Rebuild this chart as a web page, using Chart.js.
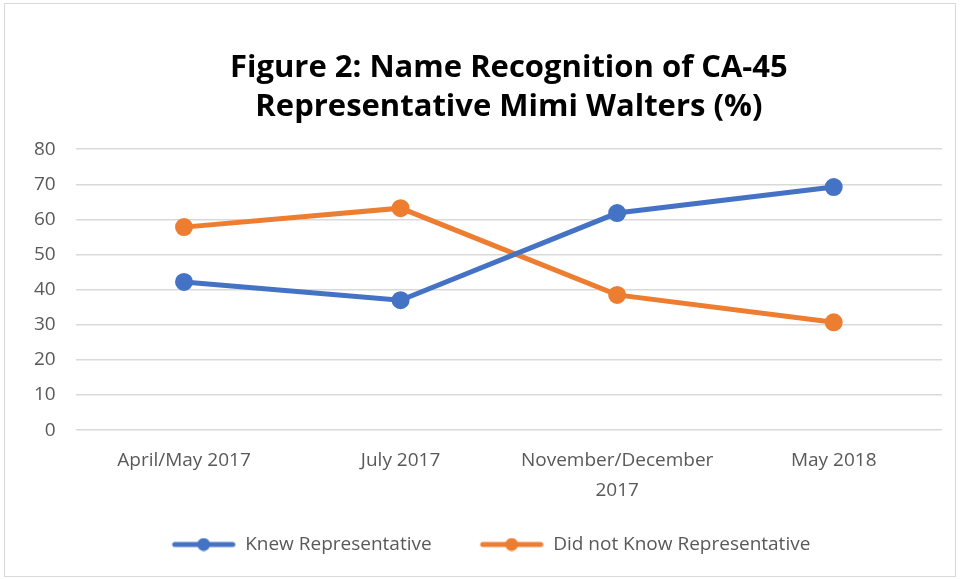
<!DOCTYPE html>
<html>
<head>
<meta charset="utf-8">
<script src="https://cdn.jsdelivr.net/npm/chart.js@4/dist/chart.umd.min.js"></script>
<style>
  html, body { margin: 0; padding: 0; background: #fff; }
  #frame { position: absolute; left: 4px; top: 3px; width: 952px; height: 574px; border: 1px solid #d9d9d9; box-sizing: border-box; }
  #chart { display: block; }
</style>
</head>
<body>
<div id="frame"><canvas id="chart" width="950" height="572"></canvas></div>
<script>
// survey waves
var categories = ["April/May 2017", "July 2017", ["November/December", "2017"], "May 2018"];
var knewValues = [42.2, 37.0, 61.8, 69.2];
var didNotKnowValues = [57.8, 63.2, 38.5, 30.7];
var yTicks = { min: 0, max: 80, step: 10 };

var blue = "#4472C4";
var orange = "#ED7D31";
var textColor = "#595959";
var fontFamily = "'Open Sans', 'Noto Sans', sans-serif";

// legend marker: a short line with a dot in the middle
// (left part of the image is blank, it acts as the gap between items)
var markerGap = 26;
function legendMarker(color) {
    var c = document.createElement("canvas");
    c.width = 64 + markerGap;
    c.height = 14;
    var ctx = c.getContext("2d");
    ctx.strokeStyle = color;
    ctx.lineWidth = 5;
    ctx.lineCap = "round";
    ctx.beginPath();
    ctx.moveTo(markerGap + 3, 7);
    ctx.lineTo(markerGap + 61, 7);
    ctx.stroke();
    ctx.fillStyle = color;
    ctx.beginPath();
    ctx.arc(markerGap + 32, 7, 6.5, 0, Math.PI * 2);
    ctx.fill();
    return c;
}

var chartData = {
    labels: categories,
    datasets: [
        {
            label: "Knew Representative",
            data: knewValues,
            borderColor: blue,
            backgroundColor: blue,
            borderWidth: 5,
            pointRadius: 6.5,
            pointHoverRadius: 6.5,
            pointBackgroundColor: blue,
            pointBorderColor: blue,
            tension: 0,
            fill: false
        },
        {
            label: "Did not Know Representative",
            data: didNotKnowValues,
            borderColor: orange,
            backgroundColor: orange,
            borderWidth: 5,
            pointRadius: 6.5,
            pointHoverRadius: 6.5,
            pointBackgroundColor: orange,
            pointBorderColor: orange,
            tension: 0,
            fill: false
        }
    ]
};

var markers = [legendMarker(blue), legendMarker(orange)];

var chart = new Chart(document.getElementById("chart"), {
    type: "line",
    data: chartData,
    options: {
        responsive: false,
        animation: false,
        layout: { padding: { left: 9, right: 13, top: 45, bottom: 12 } },
        plugins: {
            title: {
                display: true,
                fullSize: false,
                text: ["Figure 2: Name Recognition of CA-45", "Representative Mimi Walters (%)"],
                color: "#000",
                font: { family: fontFamily, size: 31, weight: "bold", lineHeight: 1.26 },
                padding: { top: 0, bottom: 22 }
            },
            legend: {
                position: "bottom",
                labels: {
                    usePointStyle: true,
                    pointStyleWidth: 64 + markerGap,
                    color: textColor,
                    font: { family: fontFamily, size: 19 },
                    padding: 22,
                    generateLabels: function (c) {
                        return c.data.datasets.map(function (ds, i) {
                            return {
                                text: ds.label,
                                pointStyle: markers[i],
                                fillStyle: ds.borderColor,
                                strokeStyle: ds.borderColor,
                                fontColor: textColor,
                                lineWidth: 0,
                                datasetIndex: i
                            };
                        });
                    }
                }
            },
            tooltip: { enabled: false }
        },
        scales: {
            x: {
                offset: true,
                grid: { display: false },
                border: { display: false },
                ticks: {
                    color: textColor,
                    font: { family: fontFamily, size: 19, lineHeight: 1.6 },
                    maxRotation: 0,
                    padding: 7
                }
            },
            y: {
                min: yTicks.min,
                max: yTicks.max,
                grid: { color: "#d9d9d9", lineWidth: 1.5, drawTicks: false },
                border: { display: false },
                ticks: {
                    stepSize: yTicks.step,
                    color: textColor,
                    font: { family: fontFamily, size: 19 },
                    padding: 20
                }
            }
        }
    }
});
</script>
</body>
</html>
